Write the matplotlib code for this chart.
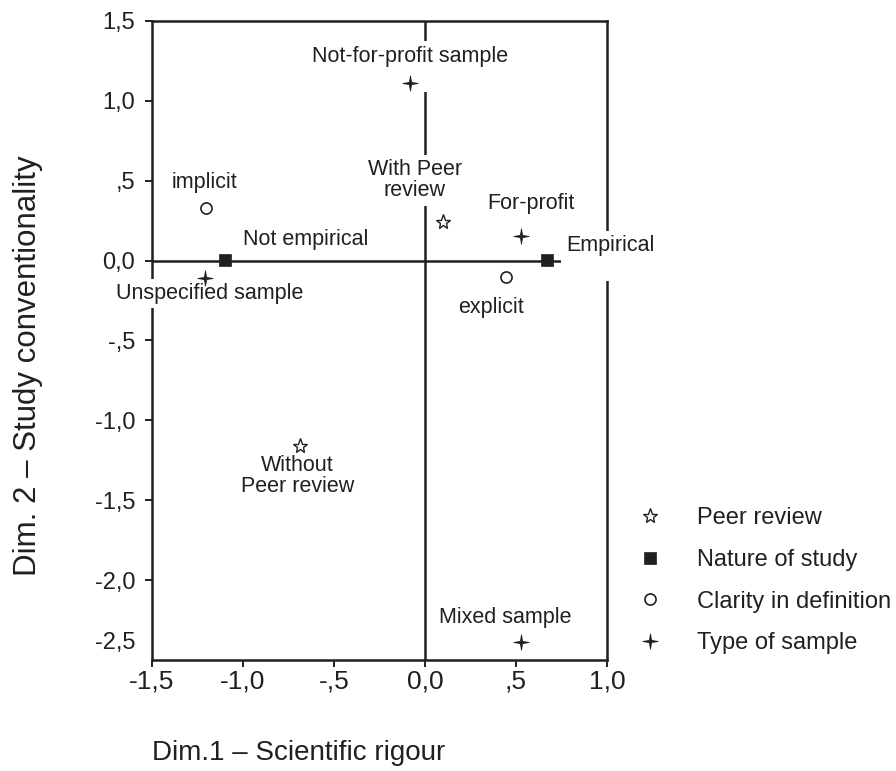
import matplotlib
matplotlib.use("Agg")
import matplotlib.pyplot as plt
from matplotlib.lines import Line2D
from matplotlib.path import Path

# ── data: category points on the two correspondence dimensions ──────────────
PEER_LABELS = ["With Peer\nreview", "Without\nPeer review"]
PEER_X = [0.097, -0.686]
PEER_Y = [0.240, -1.160]

NATURE_LABELS = ["Empirical\n", "Not empirical"]
NATURE_X = [0.669, -1.101]
NATURE_Y = [0.004, 0.004]

CLARITY_LABELS = ["explicit", "implicit"]
CLARITY_X = [0.447, -1.205]
CLARITY_Y = [-0.104, 0.330]

SAMPLE_LABELS = ["Not-for-profit sample\n", "For-profit", "Unspecified sample", "Mixed sample"]
SAMPLE_X = [-0.081, 0.529, -1.210, 0.529]
SAMPLE_Y = [1.115, 0.152, -0.106, -2.386]

LEGEND_LABELS = ["Peer review", "Nature of study", "Clarity in definition", "Type of sample"]

X_TICKS = [-1.5, -1.0, -0.5, 0.0, 0.5, 1.0]
X_TICK_LABELS = ["-1,5", "-1,0", "-,5", "0,0", ",5", "1,0"]
Y_TICKS = [1.5, 1.0, 0.5, 0.0, -0.5, -1.0, -1.5, -2.0, -2.38]
Y_TICK_LABELS = ["1,5", "1,0", ",5", "0,0", "-,5", "-1,0", "-1,5", "-2,0", "-2,5"]

# label placement relative to each marker (pixels, ha)
OFFSETS = {
    "With Peer\nreview": (-28, 42, "center"),
    "Without\nPeer review": (-3, -30, "center"),
    "Empirical\n": (19, 4, "left"),
    "Not empirical": (18, 20, "left"),
    "explicit": (-15, -30, "center"),
    "implicit": (-1, 25, "center"),
    "Not-for-profit sample\n": (0, 16, "center"),
    "For-profit": (10, 33, "center"),
    "Unspecified sample": (5, -16, "center"),
    "Mixed sample": (-16, 24, "center"),
}

INK = "#231f20"
plt.rcParams.update({
    "font.family": ["Liberation Sans", "DejaVu Sans"],
    "text.color": INK,
    "xtick.color": INK,
    "ytick.color": INK,
})

# thin four-pointed sparkle marker for sample types
SPARKLE = Path.unit_regular_star(4, 0.2)

STYLES = {
    "peer": dict(marker="*", ms=11, mfc="white", mec=INK, mew=1.0),
    "nature": dict(marker="s", ms=9, mfc=INK, mec=INK, mew=0.5),
    "clarity": dict(marker="o", ms=8, mfc="white", mec=INK, mew=1.2),
    "sample": dict(marker=SPARKLE, ms=11, mfc=INK, mec=INK, mew=0.6),
}

fig = plt.figure(figsize=(8.96, 7.71), dpi=100)
ax = fig.add_axes([152 / 896, 1 - 660 / 771, 455 / 896, 639 / 771])
ax.set_xlim(-1.5, 1.0)
ax.set_ylim(-2.5, 1.5)

for sp in ax.spines.values():
    sp.set_linewidth(1.8)
    sp.set_color(INK)
    sp.set_zorder(1.5)

ax.axhline(0, color=INK, lw=1.8, zorder=1)
ax.axvline(0, color=INK, lw=1.8, zorder=1)

groups = [
    ("peer", PEER_X, PEER_Y, PEER_LABELS),
    ("nature", NATURE_X, NATURE_Y, NATURE_LABELS),
    ("clarity", CLARITY_X, CLARITY_Y, CLARITY_LABELS),
    ("sample", SAMPLE_X, SAMPLE_Y, SAMPLE_LABELS),
]
for key, xs, ys, labels in groups:
    ax.plot(xs, ys, ls="none", zorder=3, clip_on=False, **STYLES[key])
    for x, y, lab in zip(xs, ys, labels):
        dx, dy, ha = OFFSETS[lab]
        ax.annotate(lab, (x, y), xytext=(dx, dy), textcoords="offset pixels",
                    ha=ha, va="center", fontsize=15.5, linespacing=1.0,
                    multialignment="center", zorder=2, annotation_clip=False,
                    bbox=dict(boxstyle="square,pad=0.2", fc="white", ec="none"))

ax.set_xticks(X_TICKS, X_TICK_LABELS)
ax.set_yticks(Y_TICKS, Y_TICK_LABELS)
ax.tick_params(direction="out", length=5, width=1.4)
ax.tick_params(axis="x", labelsize=19, pad=2)
ax.tick_params(axis="y", labelsize=17, pad=7)
ax.yaxis.get_major_ticks()[-1].tick1line.set_visible(False)

fig.text(152 / 896, 1 - 753 / 771, "Dim.1 \u2013 Scientific rigour", fontsize=20,
         ha="left", va="center")
fig.text(28 / 896, 1 - 366 / 771, "Dim. 2 \u2013 Study conventionality", fontsize=22.5,
         rotation=90, ha="center", va="center")

handles = [Line2D([], [], ls="none", **STYLES[k]) for k in ("peer", "nature", "clarity", "sample")]
ax.legend(handles, LEGEND_LABELS, loc="upper left",
          bbox_to_anchor=(626 / 896, 1 - 507 / 771), bbox_transform=fig.transFigure,
          frameon=False, fontsize=17, handlelength=2.0, handletextpad=1.0,
          labelspacing=0.84, borderpad=0, borderaxespad=0)

fig.savefig("out.png", dpi=100)
